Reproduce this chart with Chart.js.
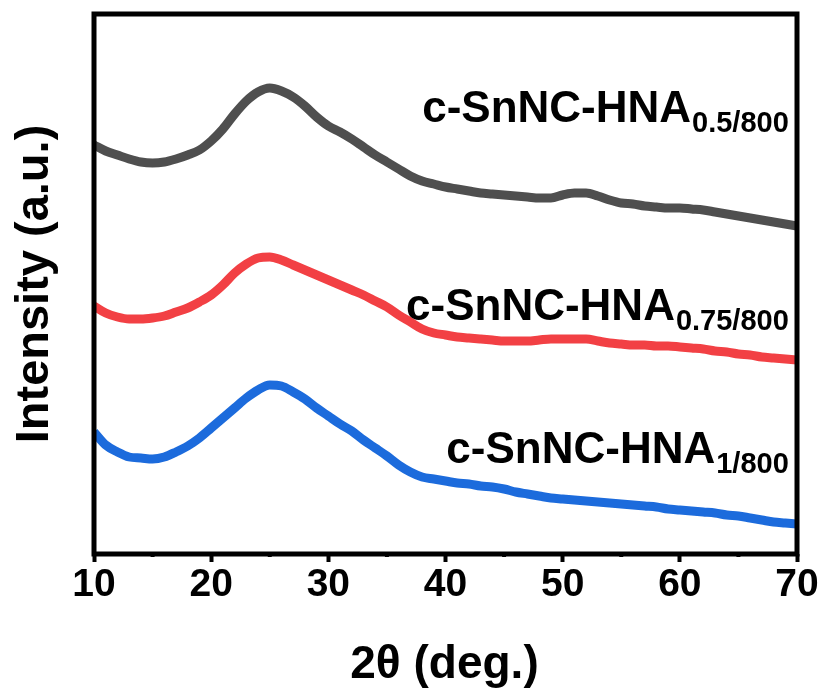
<!DOCTYPE html>
<html>
<head>
<meta charset="utf-8">
<script src="https://cdn.jsdelivr.net/npm/chart.js@4.4.1/dist/chart.umd.min.js"></script>
<style>
  html, body { margin: 0; padding: 0; background: #ffffff; }
  canvas { display: block; }
</style>
</head>
<body>
<canvas id="xrd" width="824" height="693"></canvas>
<script>
// 2θ positions (degrees)
const twoTheta = [];
for (let t = 10; t <= 70; t++) twoTheta.push(t);

// Intensity (a.u., offset traces)
const hna05 = [409,403,399,395,392,391,392,395,399,404,413,425,440,453,462,466,463,457,448,437,428,422,415,407,399,392,385,378,373,370,367,365,363,361,360,359,358,357,356,356,359,361,361,358,354,351,350,348,347,346,346,345,344,342,340,338,336,334,332,330,328];
const hna075 = [248,241,237,235,235,236,238,242,246,252,259,269,281,290,296,297,294,289,284,279,274,269,264,259,253,247,239,232,225,221,219,217,216,215,214,213,213,213,214,215,215,215,215,213,211,210,209,209,208,208,207,206,205,203,202,200,199,197,196,195,194];
const hna1 = [122,109,102,97,96,95,97,102,108,116,126,136,146,156,164,169,168,162,155,146,138,130,123,114,106,98,89,82,77,75,73,71,70,68,67,65,62,60,58,56,55,54,53,52,51,50,49,48,47,45,44,43,42,41,39,38,36,34,32,31,30];

const seriesNames = ['c-SnNC-HNA', 'c-SnNC-HNA', 'c-SnNC-HNA'];
const seriesSubs = ['0.5/800', '0.75/800', '1/800'];
const seriesColors = ['#4f4f4f', '#f24044', '#1c6bdc'];
// label anchors: right end (2θ) and baseline (intensity)
const labelAnchorX = [69.3, 69.3, 69.3];
const labelAnchorY = [432, 234, 91];

const xTickValues = [10, 20, 30, 40, 50, 60, 70];
const xMinorTicks = [15, 25, 35, 45, 55, 65];
const xTitle = '2θ (deg.)';
const yTitle = 'Intensity (a.u.)';

const FONT = '"Liberation Sans", Arial, sans-serif';

const overlay = {
  id: 'overlay',
  afterDatasetsDraw(chart) {
    const { ctx, chartArea: a, scales: { x, y } } = chart;
    ctx.save();
    ctx.strokeStyle = '#000';
    ctx.fillStyle = '#000';

    // minor ticks
    ctx.lineWidth = 4;
    xMinorTicks.forEach(v => {
      const px = x.getPixelForValue(v);
      ctx.beginPath();
      ctx.moveTo(px, a.bottom);
      ctx.lineTo(px, a.bottom + 3);
      ctx.stroke();
    });

    // frame
    ctx.lineWidth = 5;
    ctx.strokeRect(a.left, a.top, a.right - a.left, a.bottom - a.top);

    // trace labels with subscripts
    ctx.textAlign = 'left';
    ctx.textBaseline = 'alphabetic';
    for (let i = 0; i < seriesNames.length; i++) {
      const right = x.getPixelForValue(labelAnchorX[i]);
      const base = y.getPixelForValue(labelAnchorY[i]);
      ctx.font = 'bold 29px ' + FONT;
      const subW = ctx.measureText(seriesSubs[i]).width;
      ctx.font = 'bold 44px ' + FONT;
      const mainW = ctx.measureText(seriesNames[i]).width;
      const start = right - subW - mainW - 1;
      ctx.fillText(seriesNames[i], start, base);
      ctx.font = 'bold 29px ' + FONT;
      ctx.fillText(seriesSubs[i], start + mainW + 1, base + 10);
    }

    // axis titles
    ctx.font = 'bold 46px ' + FONT;
    ctx.textAlign = 'center';
    ctx.fillText(xTitle, (a.left + a.right) / 2 - 1, 678);

    ctx.save();
    ctx.translate(48, (a.top + a.bottom) / 2);
    ctx.rotate(-Math.PI / 2);
    ctx.font = 'bold 47px ' + FONT;
    ctx.fillText(yTitle, 0, 0);
    ctx.restore();

    ctx.restore();
  }
};

const mk = (data, color) => ({
  data: data.map((v, j) => ({ x: twoTheta[j], y: v })),
  borderColor: color,
  backgroundColor: color,
  borderWidth: 9,
  pointRadius: 0,
  cubicInterpolationMode: 'monotone',
  fill: false,
  borderCapStyle: 'butt',
  borderJoinStyle: 'round'
});

new Chart(document.getElementById('xrd'), {
  type: 'line',
  data: {
    datasets: [
      mk(hna05, seriesColors[0]),
      mk(hna075, seriesColors[1]),
      mk(hna1, seriesColors[2])
    ]
  },
  options: {
    responsive: false,
    animation: false,
    devicePixelRatio: 1,
    layout: { padding: { top: 14, right: 27, left: 0, bottom: 0 } },
    plugins: { legend: { display: false }, tooltip: { enabled: false } },
    scales: {
      x: {
        type: 'linear',
        min: 10,
        max: 70,
        afterFit: s => { s.height = 139; },
        afterBuildTicks: s => { s.ticks = xTickValues.map(v => ({ value: v })); },
        ticks: {
          color: '#000',
          font: { family: FONT, size: 39, weight: 'bold' },
          padding: 0,
          maxRotation: 0,
          autoSkip: false
        },
        grid: {
          drawOnChartArea: false,
          drawTicks: true,
          tickLength: 8,
          tickWidth: 4,
          tickColor: '#000'
        },
        border: { display: false }
      },
      y: {
        min: 0,
        max: 540,
        afterFit: s => { s.width = 94; },
        ticks: { display: false },
        grid: { display: false },
        border: { display: false }
      }
    }
  },
  plugins: [overlay]
});
</script>
</body>
</html>
